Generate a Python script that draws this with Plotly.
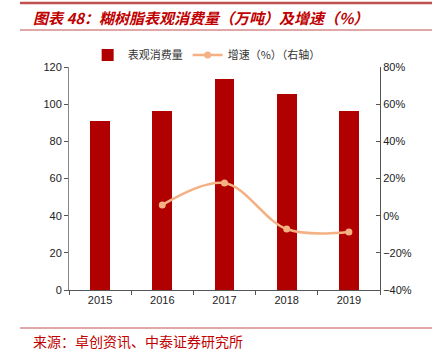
import plotly.graph_objects as go

years = ["2015", "2016", "2017", "2018", "2019"]
consumption = [91.0, 96.3, 113.5, 105.5, 96.3]
growth_years = ["2016", "2017", "2018", "2019"]
growth = [5.8, 17.6, -7.2, -8.8]

W, H = 442, 351
L, R, T, B = 69, 62, 67, 61

fig = go.Figure()
fig.add_trace(go.Bar(
    x=years, y=consumption, name="表观消费量",
    marker=dict(color="#B00000", line=dict(width=0)),
    width=0.32, yaxis="y"))
fig.add_trace(go.Scatter(
    x=growth_years, y=growth, name="增速（%）（右轴）",
    mode="lines+markers", line=dict(color="#F4B183", width=2.5, shape="spline"),
    marker=dict(size=7, color="#F4B183"), yaxis="y2"))

axis_font = dict(family="Liberation Sans, Arial", size=11, color="#222")
fig.update_layout(
    width=W, height=H,
    margin=dict(l=L, r=R, t=T, b=B),
    paper_bgcolor="white", plot_bgcolor="white",
    bargap=0,
    showlegend=True,
    legend=dict(orientation="h", x=0.06, y=1.054, xanchor="left", yanchor="middle",
                font=dict(family="Noto Sans CJK SC", size=11, color="#333"),
                itemwidth=30, bgcolor="rgba(0,0,0,0)", traceorder="normal"),
    xaxis=dict(type="category", showline=True, linecolor="#555", linewidth=1,
               ticks="outside", tickson="boundaries", ticklen=4, tickcolor="#555",
               tickfont=axis_font, showgrid=False),
    yaxis=dict(range=[0, 120], dtick=20, showline=True, linecolor="#888", linewidth=1,
               ticks="outside", ticklen=4, tickcolor="#555", tickfont=axis_font,
               showgrid=False, zeroline=False),
    yaxis2=dict(range=[-40, 80], dtick=20, overlaying="y", side="right",
                showline=True, linecolor="#555", linewidth=1,
                ticks="inside", ticklen=4, tickcolor="#555",
                ticksuffix="%", tickfont=axis_font, showgrid=False, zeroline=False),
)

# title decorations
fig.add_shape(type="line", xref="paper", yref="paper",
              x0=(20 - L) / 311, x1=(432 - L) / 311,
              y0=(290 - 3) / 223, y1=(290 - 3) / 223,
              line=dict(color="#C0504D", width=2.5))
fig.add_shape(type="line", xref="paper", yref="paper",
              x0=(20 - L) / 311, x1=(432 - L) / 311,
              y0=(290 - 30) / 223, y1=(290 - 30) / 223,
              line=dict(color="#C0504D", width=1))
fig.add_shape(type="line", xref="paper", yref="paper",
              x0=(20 - L) / 311, x1=(432 - L) / 311,
              y0=(290 - 328) / 223, y1=(290 - 328) / 223,
              line=dict(color="#C0504D", width=1))
fig.add_annotation(text="<b><i>图表 48：糊树脂表观消费量（万吨）及增速（%）</i></b>",
                   xref="paper", yref="paper", x=(31 - L) / 311, y=(290 - 17) / 223,
                   xanchor="left", yanchor="middle", showarrow=False,
                   font=dict(family="Noto Sans CJK SC", size=15, color="#C00000"))
fig.add_annotation(text="来源：卓创资讯、中泰证券研究所",
                   xref="paper", yref="paper", x=(31 - L) / 311, y=(290 - 341) / 223,
                   xanchor="left", yanchor="middle", showarrow=False,
                   font=dict(family="Noto Sans CJK SC", size=14, color="#C00000"))

fig.write_html("out.html")
